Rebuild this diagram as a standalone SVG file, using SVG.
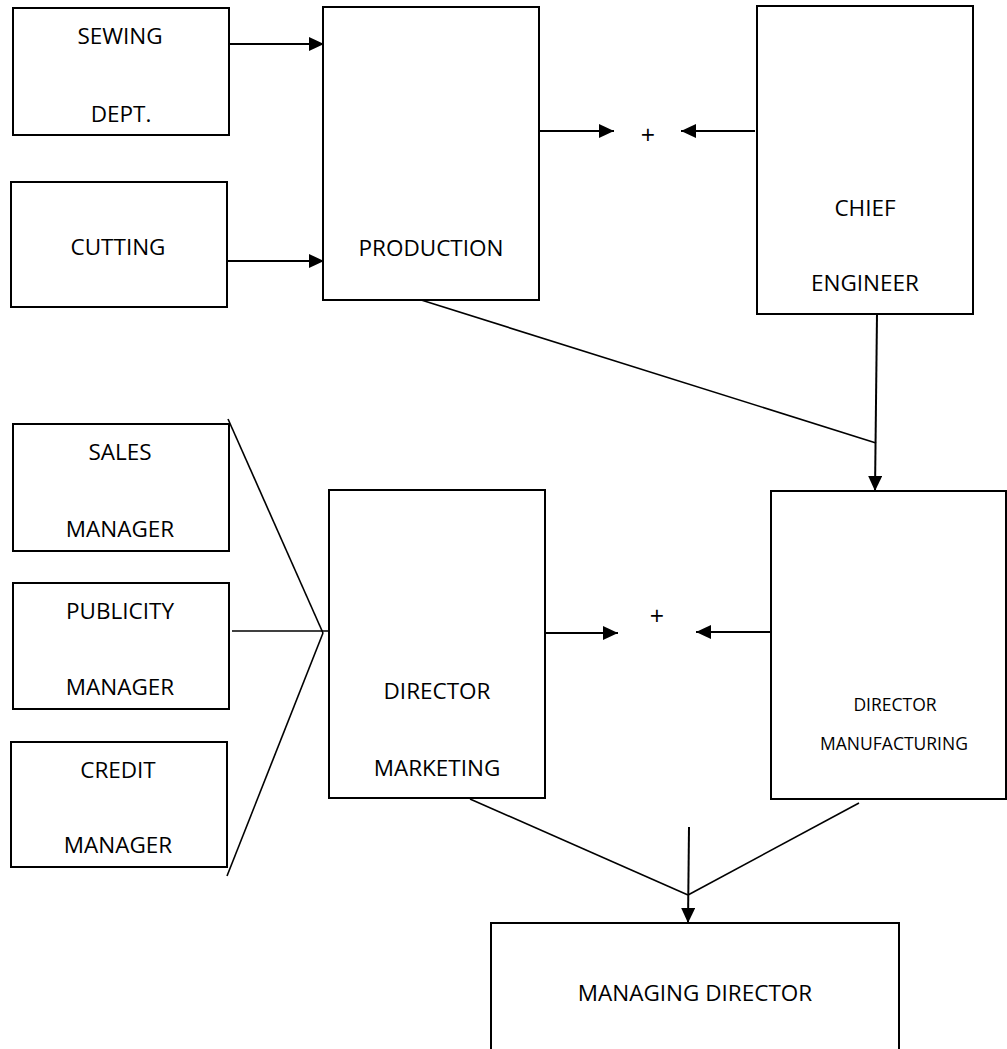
<svg xmlns="http://www.w3.org/2000/svg" width="1007" height="1049" viewBox="0 0 1007 1049">
<style>
.box{fill:#fff;stroke:#000;stroke-width:2}
.t{font-family:"Open Sans","Liberation Sans",sans-serif;font-size:22.5px;fill:#000;text-anchor:middle}
.s{font-size:17.5px}
.p{font-size:25px}
.c{stroke:#000;stroke-width:2;fill:none}
.l{stroke:#000;stroke-width:1.6;fill:none}
</style>
<defs>
<marker id="ah" markerUnits="userSpaceOnUse" markerWidth="16" markerHeight="14" refX="15" refY="7" orient="auto">
<path d="M0,0 L15,7 L0,14 z" fill="#000"/>
</marker>
</defs>
<rect width="1007" height="1049" fill="#fff"/>
<g id="connectors">
<line class="c" x1="229" y1="44" x2="324" y2="44" marker-end="url(#ah)"/>
<line class="c" x1="227" y1="261" x2="324" y2="261" marker-end="url(#ah)"/>
<line class="c" x1="539" y1="131" x2="614" y2="131" marker-end="url(#ah)"/>
<line class="c" x1="755" y1="131" x2="681" y2="131" marker-end="url(#ah)"/>
<line class="l" x1="418" y1="299" x2="876" y2="443"/>
<line class="c" x1="877" y1="314" x2="875" y2="491" marker-end="url(#ah)"/>
<line class="l" x1="228" y1="419" x2="323" y2="633"/>
<line class="l" x1="232" y1="631" x2="329" y2="631"/>
<line class="l" x1="227" y1="876" x2="323" y2="633"/>
<line class="c" x1="545" y1="633" x2="618" y2="633" marker-end="url(#ah)"/>
<line class="c" x1="770" y1="632" x2="696" y2="632" marker-end="url(#ah)"/>
<line class="l" x1="470" y1="799" x2="688" y2="895"/>
<line class="l" x1="859" y1="803" x2="688" y2="895"/>
<line class="c" x1="689" y1="827" x2="688" y2="923" marker-end="url(#ah)"/>
<text class="t p" x="648" y="144">+</text>
<text class="t p" x="657" y="625">+</text>
</g>
<g id="sewing"><rect class="box" x="13" y="8" width="216" height="127"/><text class="t" x="120" y="44">SEWING</text><text class="t" x="121" y="122">DEPT.</text></g>
<g id="cutting"><rect class="box" x="11" y="182" width="216" height="125"/><text class="t" x="118" y="255">CUTTING</text></g>
<g id="production"><rect class="box" x="323" y="7" width="216" height="293"/><text class="t" x="431" y="256">PRODUCTION</text></g>
<g id="chief-engineer"><rect class="box" x="757" y="6" width="216" height="308"/><text class="t" x="865" y="216">CHIEF</text><text class="t" x="865" y="291">ENGINEER</text></g>
<g id="sales-manager"><rect class="box" x="13" y="424" width="216" height="127"/><text class="t" x="120" y="460">SALES</text><text class="t" x="120" y="537">MANAGER</text></g>
<g id="publicity-manager"><rect class="box" x="13" y="583" width="216" height="126"/><text class="t" x="120" y="619">PUBLICITY</text><text class="t" x="120" y="695">MANAGER</text></g>
<g id="credit-manager"><rect class="box" x="11" y="742" width="216" height="125"/><text class="t" x="118" y="778">CREDIT</text><text class="t" x="118" y="853">MANAGER</text></g>
<g id="director-marketing"><rect class="box" x="329" y="490" width="216" height="308"/><text class="t" x="437" y="699">DIRECTOR</text><text class="t" x="437" y="776">MARKETING</text></g>
<g id="director-manufacturing"><rect class="box" x="771" y="491" width="235" height="308"/><text class="t s" x="895" y="711">DIRECTOR</text><text class="t s" x="894" y="750">MANUFACTURING</text></g>
<g id="managing-director"><rect class="box" x="491" y="923" width="408" height="135"/><text class="t" x="695" y="1001">MANAGING DIRECTOR</text></g>
</svg>
